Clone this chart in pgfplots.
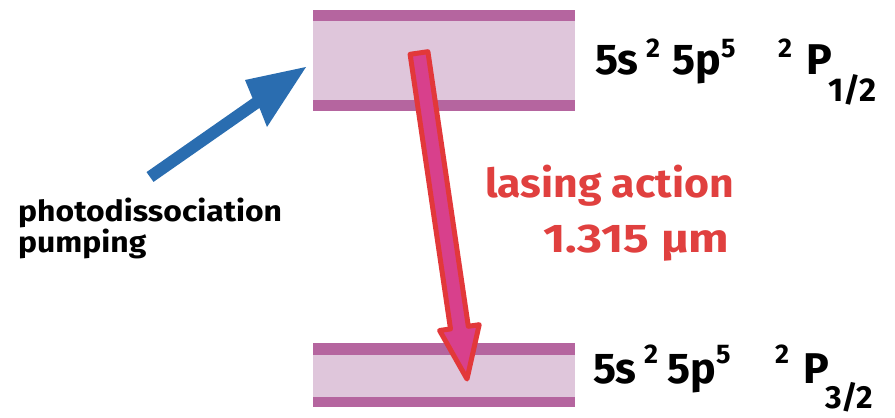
\documentclass[border=0pt]{standalone}
\usepackage{pgfplots}
\pgfplotsset{compat=1.18}
\usepackage{fontspec}
\setmainfont{Fira Sans}
\definecolor{bandfill}{HTML}{DFC6DB}
\definecolor{bandline}{HTML}{B5659F}
\definecolor{arrred}{HTML}{E2383A}
\definecolor{arrmag}{HTML}{D8408C}
\definecolor{arrblue}{HTML}{2A6DB0}
\definecolor{txtred}{HTML}{E0403F}
\begin{document}
\begin{tikzpicture}
\begin{axis}[
  scale only axis, width=895bp, height=418bp,
  xmin=0, xmax=895, ymin=0, ymax=418, y dir=reverse,
  hide axis, clip=false,
]
% upper level band
\addplot[fill=bandfill, draw=none] coordinates {(313,21) (575,21) (575,100) (313,100)} -- cycle;
\addplot[fill=bandline, draw=none] coordinates {(313,10) (575,10) (575,21) (313,21)} -- cycle;
\addplot[fill=bandline, draw=none] coordinates {(313,100) (575,100) (575,111) (313,111)} -- cycle;
% lower level band
\addplot[fill=bandfill, draw=none] coordinates {(313,355) (575,355) (575,397) (313,397)} -- cycle;
\addplot[fill=bandline, draw=none] coordinates {(313,343) (575,343) (575,355) (313,355)} -- cycle;
\addplot[fill=bandline, draw=none] coordinates {(313,397) (575,397) (575,407) (313,407)} -- cycle;
% blue pumping arrow
\addplot[fill=arrblue, draw=none] coordinates {(153.5,181.9) (259.5,107.9) (267,127) (306,67) (245,80) (252.5,98.1) (146.5,172.1)} -- cycle;
% red lasing arrow
\addplot[fill=arrmag, draw=arrred, line width=5bp, line join=round] coordinates {(410.1,54.3) (427.9,51.7) (468.3,326.3) (479.2,324.7) (467,379) (439.6,330.5) (450.5,328.9)} -- cycle;
% texts
\node[anchor=base west, inner sep=0pt, align=left, font={\fontsize{29bp}{25bp}\selectfont\bfseries}] at (axis cs:18,252) {\scalebox{1.1}[1]{photodissociation}\\\scalebox{1.1}[1]{pumping}};
\node[anchor=base west, inner sep=0pt, text=txtred] at (axis cs:485,197) {\fontsize{40bp}{40bp}\selectfont\bfseries\scalebox{1.07}[1]{lasing action}};
\node[anchor=base west, inner sep=0pt, text=txtred] at (axis cs:543,252) {\fontsize{40bp}{40bp}\selectfont\bfseries\scalebox{1.2}[1]{1.315 µm}};
% upper label
\node[anchor=base west, inner sep=0pt] at (axis cs:595,75) {\fontsize{43bp}{43bp}\selectfont\bfseries 5s};
\node[anchor=base west, inner sep=0pt] at (axis cs:646,58) {\fontsize{27bp}{27bp}\selectfont\bfseries 2};
\node[anchor=base west, inner sep=0pt] at (axis cs:672,75) {\fontsize{43bp}{43bp}\selectfont\bfseries 5p};
\node[anchor=base west, inner sep=0pt] at (axis cs:721,58) {\fontsize{27bp}{27bp}\selectfont\bfseries 5};
\node[anchor=base west, inner sep=0pt] at (axis cs:778,58) {\fontsize{27bp}{27bp}\selectfont\bfseries 2};
\node[anchor=base west, inner sep=0pt] at (axis cs:806,75) {\fontsize{43bp}{43bp}\selectfont\bfseries P};
\node[anchor=base west, inner sep=0pt] at (axis cs:828,101) {\fontsize{33bp}{33bp}\selectfont\bfseries 1/2};
% lower label
\node[anchor=base west, inner sep=0pt] at (axis cs:593,383) {\fontsize{43bp}{43bp}\selectfont\bfseries 5s};
\node[anchor=base west, inner sep=0pt] at (axis cs:644,363) {\fontsize{27bp}{27bp}\selectfont\bfseries 2};
\node[anchor=base west, inner sep=0pt] at (axis cs:667,383) {\fontsize{43bp}{43bp}\selectfont\bfseries 5p};
\node[anchor=base west, inner sep=0pt] at (axis cs:716,363) {\fontsize{27bp}{27bp}\selectfont\bfseries 5};
\node[anchor=base west, inner sep=0pt] at (axis cs:775,363) {\fontsize{27bp}{27bp}\selectfont\bfseries 2};
\node[anchor=base west, inner sep=0pt] at (axis cs:803,383) {\fontsize{43bp}{43bp}\selectfont\bfseries P};
\node[anchor=base west, inner sep=0pt] at (axis cs:825,408) {\fontsize{32bp}{32bp}\selectfont\bfseries 3/2};
\end{axis}
\path (current axis.south west) rectangle (current axis.north east);
\end{tikzpicture}
\end{document}
